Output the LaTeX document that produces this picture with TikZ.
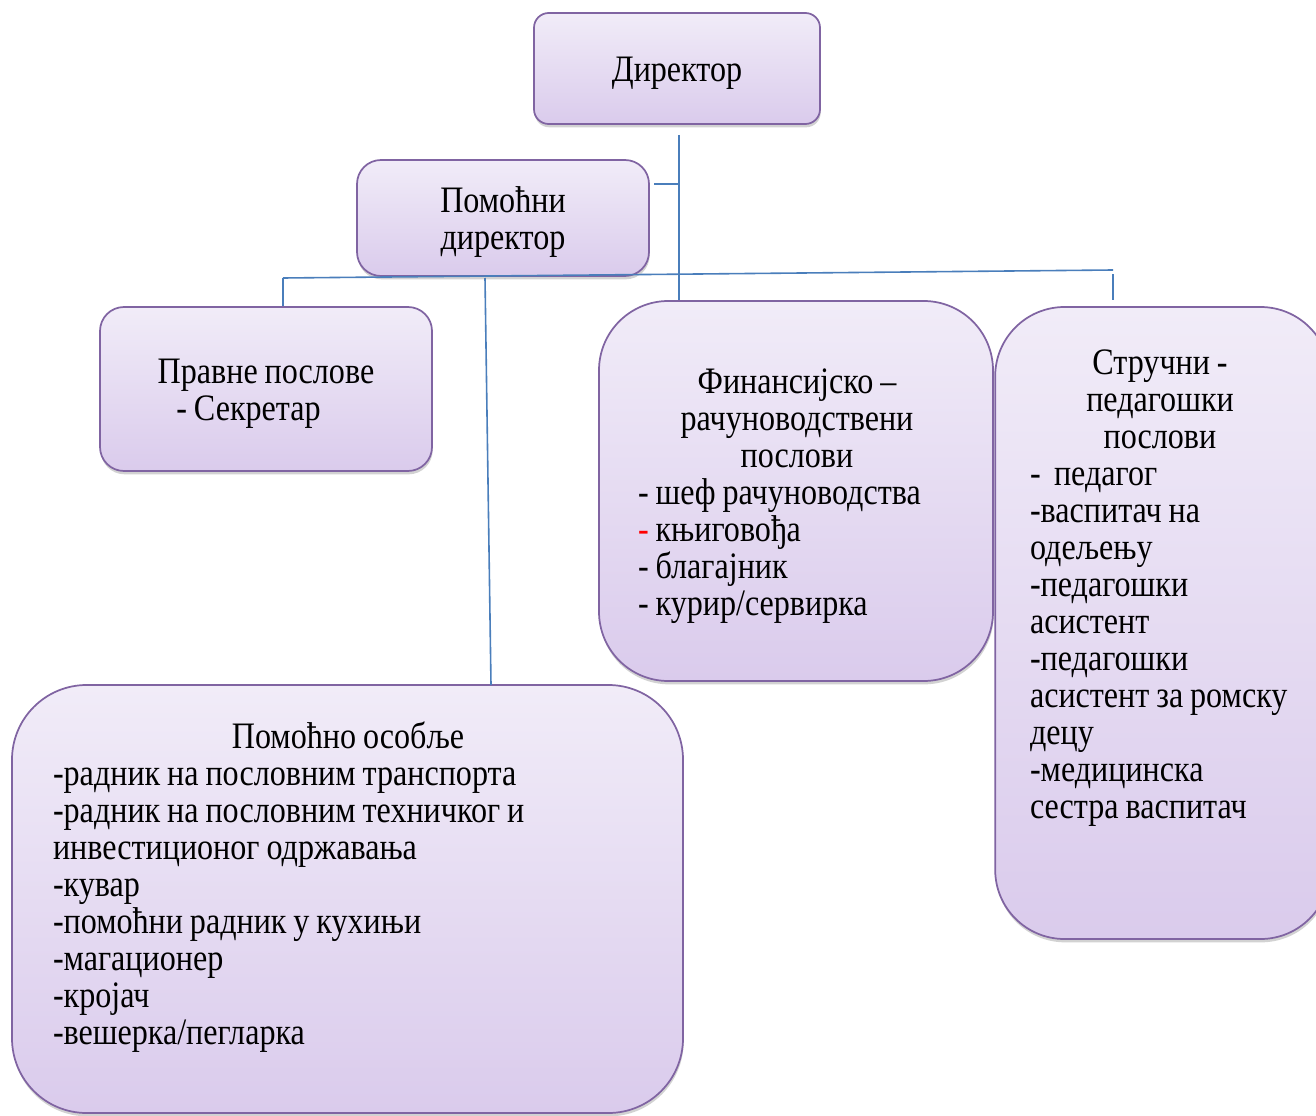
\documentclass[tikz,border=0pt]{standalone}
\usepackage{fontspec}
\setmainfont{Liberation Serif}[FakeStretch=0.86,WordSpace=0.86]
\usetikzlibrary{shadows}
\setlength{\parindent}{0pt}
\definecolor{boxline}{HTML}{8064A2}
\definecolor{boxtop}{HTML}{F1ECF8}
\definecolor{boxbot}{HTML}{DACBEC}
\definecolor{linkblue}{HTML}{4A7EBB}
\begin{document}
\begin{tikzpicture}
    [x=0.75pt,y=-0.75pt,
     box/.style={draw=boxline,line width=1.3pt,top color=boxtop,bottom color=boxbot,
       drop shadow={shadow xshift=0.5pt,shadow yshift=-2.5pt,opacity=0.25,fill=black!70},inner sep=0pt},
     txt/.style={font=\fontsize{28}{27.75}\selectfont,inner sep=0pt},
     link/.style={draw=linkblue,line width=1.2pt}]
    \useasboundingbox (0,0) rectangle (1316,1116);
    \node [box,minimum width=214.5pt,minimum height=83.25pt,rounded corners=11pt] (dir) at (677,68.5) {};
    \node [box,minimum width=219pt,minimum height=87pt,rounded corners=18pt] (asst) at (503,218) {};
    \node [box,minimum width=249pt,minimum height=123pt,rounded corners=18pt] (legal) at (266,389) {};
    \node [box,minimum width=295.5pt,minimum height=285pt,rounded corners=52pt] (fin) at (796,491) {};
    \node [box,minimum width=251pt,minimum height=474pt,rounded corners=52pt] (ped) at (1162.5,623) {};
    \node [box,minimum width=503.25pt,minimum height=321pt,rounded corners=56pt] (staff) at (347.5,899) {};
    \node [txt] (dirtxt) at (677,73) {Директор};
    \node [txt,align=center] (assttxt) at (503,222) {Помоћни\\директор};
    \node [txt,align=flush left] (legaltxt) at (266,394) {Правне послове\\\hspace*{14pt}- Секретар};
    \node [txt,align=flush left,text width=238.5pt] (fintxt) at (797,496)
      {{\centering Финансијско –\\рачуноводствени\\послови\par}
       - шеф рачуноводства\\{\color{red}-} књиговођа\\- благајник\\- курир/сервирка};
    \node [txt,align=flush left,text width=195pt] (pedtxt) at (1160,588)
      {{\centering Стручни -\\педагошки\\послови\par}
       -\hspace{10pt}педагог\\-васпитач на\\одељењу\\-педагошки\\асистент\\-педагошки\\асистент за ромску\\децу\\-медицинска\\сестра васпитач};
    \node [txt,align=flush left,text width=442.5pt] (stafftxt) at (348,887)
      {{\centering Помоћно особље\par}
       -радник на пословним транспорта\\-радник на пословним техничког и\\инвестиционог одржавања\\-кувар\\-помоћни радник у кухињи\\-магационер\\-кројач\\-вешерка/пегларка};
    \coordinate (dirfoot) at (679,135);
    \coordinate (asstjoin) at (679,184);
    \coordinate (barL) at (283,278);
    \coordinate (barR) at (1113,270);
    \coordinate (asstfoot) at (485,278);
    \coordinate (stafftop) at (491,685);
    \draw [link] (dirfoot) -- (dirfoot |- fin.north);
    \draw [link] (asstjoin) -- ([xshift=3pt]asstjoin -| asst.east);
    \draw [link] (barL) -- (barR);
    \draw [link] (barL) -- (barL |- legal.north);
    \draw [link] ([yshift=-3pt]barR) -- (barR |- fin.north);
    \draw [link] (asstfoot) -- (stafftop);
\end{tikzpicture}
\end{document}
